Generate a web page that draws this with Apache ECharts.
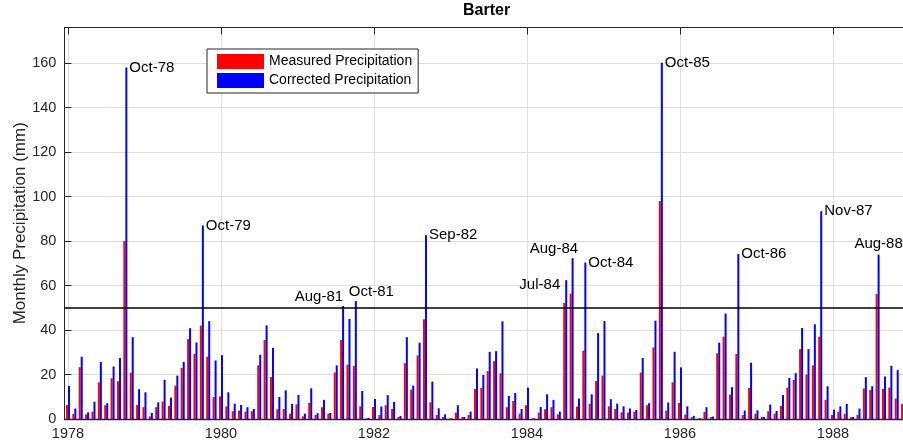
<!DOCTYPE html>
<html><head><meta charset="utf-8">
<script src="https://cdn.jsdelivr.net/npm/echarts@6/dist/echarts.min.js"></script>
<style>html,body{margin:0;padding:0;background:#fff}#c{width:903px;height:444px}</style>
</head><body><div id="c"></div>
<script>
// ---- data ----
const startYear = 1978;
const yearTicks = [1978, 1980, 1982, 1984, 1986, 1988];
const monthNames = ['Jan','Feb','Mar','Apr','May','Jun','Jul','Aug','Sep','Oct','Nov','Dec'];
// monthly values Jan-1978 .. Dec-1988 (mm)
const measured = [
  6.3, 2.3, 23.3, 2.1, 3.3, 16.5, 6.2, 18.3, 17, 80, 20.8, 6.3,
  5.3, 1.2, 5.3, 7.8, 5.9, 15, 22.9, 35.9, 29.3, 42, 28, 9.9,
  10.2, 5.7, 3.5, 3.8, 3.3, 3.5, 24.1, 35.5, 18.9, 4.4, 4.5, 2.4,
  6.6, 1.2, 7.2, 1.8, 5.3, 2.4, 20.9, 35.5, 24.4, 23.9, 5.7, 0.3,
  5.4, 1.8, 6.2, 4.5, 0.9, 25.1, 13.2, 28.6, 44.8, 7.5, 1.8, 0.9,
  0.2, 2.9, 0.8, 1.8, 13.5, 14, 21.5, 26, 20.6, 5.3, 8.1, 2.4,
  6.2, 0.2, 2.9, 4.4, 5.3, 2.1, 52.2, 56.4, 5.6, 30.7, 6.8, 17.1,
  19.5, 5.7, 4.5, 3, 2.9, 3.3, 20.9, 6.2, 32.2, 98, 3.8, 16.5,
  7.2, 2, 0.8, 0.2, 3.2, 0.9, 29.6, 37, 11, 29.2, 1.8, 14,
  2.4, 0.9, 3.5, 2.4, 5.9, 14.1, 17.6, 31.4, 20, 24.1, 37, 8.6,
  1.8, 3.3, 2.3, 0.8, 1.8, 13.7, 13.1, 56.2, 13.5, 14.1, 9.2, 6.8
];
const corrected = [
  14.9, 4.7, 28, 3, 7.8, 25.6, 7.1, 23.6, 27.4, 158, 36.8, 13.4,
  12, 2.7, 7.5, 17.6, 9.6, 19.5, 25.7, 40.8, 34.4, 87, 44, 26.3,
  28.7, 12, 6.9, 6.3, 5.3, 4.5, 28.9, 42.1, 32, 9.9, 12.9, 6.8,
  10.8, 2.4, 13.8, 2.6, 8.6, 2.7, 24.1, 50.8, 45, 53, 12.6, 0.5,
  9, 5.6, 10.7, 7.7, 1.4, 36.8, 15, 34.3, 82.6, 16.8, 4.8, 2.1,
  0.3, 6.2, 0.9, 3.3, 22.7, 19.8, 30.2, 30.5, 43.9, 10.4, 11.7, 4.5,
  14.1, 0.3, 5.4, 11.1, 8.6, 3.3, 62.4, 72.3, 9.2, 70.3, 11.1, 38.6,
  44, 8.9, 6.9, 5.7, 4.7, 4.1, 27.4, 7.1, 44.2, 160.2, 7.4, 30.2,
  23.2, 5.7, 1.4, 0.3, 5.3, 1.1, 34.3, 47.4, 14.3, 74.2, 3.8, 25.3,
  3.9, 0.9, 6.5, 3.6, 10.8, 18.5, 20.6, 40.9, 31.4, 42.6, 93.4, 14.7,
  4.2, 5.7, 6.8, 0.9, 4.7, 18.8, 14.7, 73.9, 19.1, 23.9, 22, 8
];
const peakNames = ['Oct-78','Oct-79','Aug-81','Oct-81','Sep-82','Jul-84','Aug-84','Oct-84','Oct-85','Oct-86','Nov-87','Aug-88'];
const threshold = 50;
const yTicks = [0, 20, 40, 60, 80, 100, 120, 140, 160];

// ---- helpers ----
function monthIndex(name) {
  const [m, yy] = name.split('-');
  return (1900 + parseInt(yy, 10) - startYear) * 12 + monthNames.indexOf(m);
}
const tickVals = yearTicks.map(y => (y - startYear) * 12);
const FONT = '"Liberation Sans", Arial, Helvetica, sans-serif';
const AX = '#262626';
const GRID = '#dfdfdf';

const defaultPlace = {position: ['100%', 0], align: 'left', verticalAlign: 'middle', offset: [2, 0]};
const placements = {
  'Aug-81': {position: [0, 0], align: 'right', verticalAlign: 'middle', offset: [1, -9]},
  'Oct-81': {position: [0, 0], align: 'left', verticalAlign: 'middle', offset: [-6, -9.5]},
  'Jul-84': {position: [0, 0], align: 'right', verticalAlign: 'middle', offset: [-5, 5]},
  'Aug-84': {position: [0, 0], align: 'right', verticalAlign: 'middle', offset: [6.5, -9]},
  'Aug-88': {position: ['50%', 0], align: 'center', verticalAlign: 'middle', offset: [0, -10.5]}
};
const peakByIndex = {};
peakNames.forEach(n => { peakByIndex[monthIndex(n)] = n; });

const redData = measured.map((v, i) => [i, v]);
const blueData = corrected.map((v, i) => {
  const n = peakByIndex[i];
  if (!n) return [i, v];
  const p = placements[n] || defaultPlace;
  return {
    value: [i, v],
    label: Object.assign({
      show: true, formatter: n, fontSize: 15, color: '#000', fontFamily: FONT
    }, p)
  };
});

const xMin = -0.56, xMax = 132;

const chart = echarts.init(document.getElementById('c'), null, {renderer: 'canvas'});
chart.setOption({
  animation: false,
  backgroundColor: '#fff',
  textStyle: {fontFamily: FONT},
  title: {
    text: 'Barter', left: 463, top: 3, padding: 0,
    textStyle: {fontSize: 16, fontWeight: 'bold', color: '#000', fontFamily: FONT}
  },
  legend: {
    orient: 'vertical', left: 207, top: 49,
    padding: [5, 6, 5, 10], itemGap: 4, itemWidth: 47, itemHeight: 15,
    icon: 'rect', borderColor: AX, borderWidth: 1, backgroundColor: '#fff',
    textStyle: {fontSize: 14, color: '#000', fontFamily: FONT, lineHeight: 15},
    data: ['Measured Precipitation', 'Corrected Precipitation']
  },
  grid: {left: 64.4, top: 27.5, width: (xMax - xMin) * 6.375, height: 391.5, containLabel: false, outerBoundsMode: 'none'},
  xAxis: [{
    type: 'value', min: xMin, max: xMax, position: 'bottom',
    axisLine: {show: true, onZero: false, lineStyle: {color: AX, width: 1.3}},
    axisTick: {show: true, inside: true, length: 7, customValues: tickVals, lineStyle: {color: AX}},
    axisLabel: {show: true, customValues: tickVals, margin: 7, fontSize: 14.5, color: AX, fontFamily: FONT,
      formatter: v => String(startYear + Math.round(v) / 12)},
    splitLine: {show: true, lineStyle: {color: GRID, width: 1}}
  }, {
    type: 'value', min: xMin, max: xMax, position: 'top',
    axisLine: {show: true, onZero: false, lineStyle: {color: AX, width: 1}},
    axisTick: {show: true, inside: true, length: 7, customValues: tickVals, lineStyle: {color: AX}},
    axisLabel: {show: false},
    splitLine: {show: false}
  }],
  yAxis: {
    type: 'value', min: 0, max: 176, interval: 20,
    name: 'Monthly Precipitation (mm)', nameLocation: 'middle', nameGap: 36,
    nameMoveOverlap: false,
    nameTextStyle: {fontSize: 17, color: AX, fontFamily: FONT},
    axisLine: {show: true, onZero: false, lineStyle: {color: AX, width: 1}},
    axisTick: {show: true, inside: true, length: 7, lineStyle: {color: AX}},
    axisLabel: {margin: 8, fontSize: 14.5, color: AX, fontFamily: FONT,
      formatter: v => (yTicks.indexOf(v) >= 0 ? String(v) : '')},
    splitLine: {show: true, lineStyle: {color: GRID, width: 1}}
  },
  series: [{
    name: 'Measured Precipitation', type: 'bar', data: redData,
    barWidth: 2, barGap: '0%',
    itemStyle: {color: '#ff0000'},
    markLine: {
      silent: true, symbol: ['none', 'none'], label: {show: false},
      lineStyle: {color: '#000', width: 1.5, type: 'solid'},
      data: [{yAxis: threshold}]
    }
  }, {
    name: 'Corrected Precipitation', type: 'bar', data: blueData,
    barWidth: 2, barGap: '0%',
    itemStyle: {color: '#0000ff'}
  }]
});
</script>
</body></html>
